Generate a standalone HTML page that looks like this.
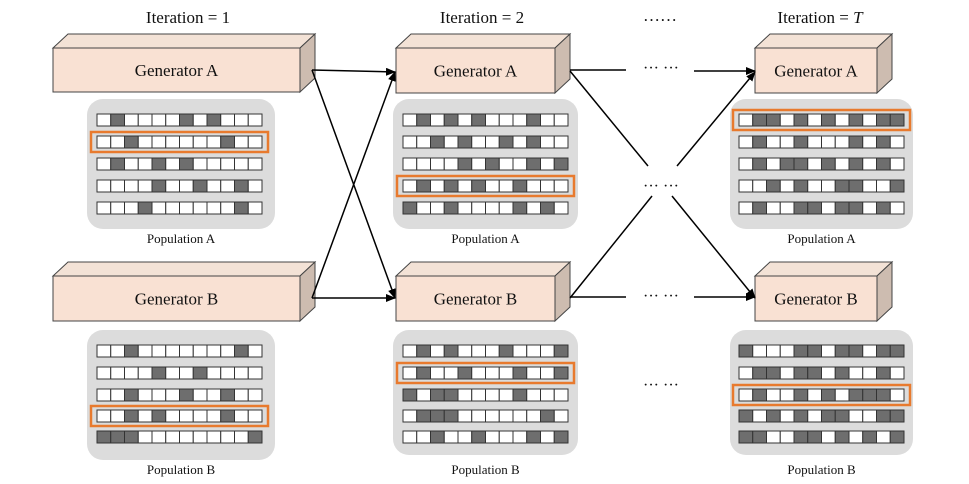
<!DOCTYPE html>
<html><head><meta charset="utf-8"><style>
html,body{margin:0;padding:0;background:#fff;}
svg{display:block;}
text{font-family:"Liberation Serif",serif;fill:#111;}
</style></head><body>
<svg id="s" width="969" height="484" viewBox="0 0 969 484" xmlns="http://www.w3.org/2000/svg">
<defs>
<marker id="ah" markerWidth="10" markerHeight="8" refX="9" refY="4" orient="auto" markerUnits="userSpaceOnUse">
<path d="M0,0 L10,4 L0,8 z" fill="#000"/>
</marker>
</defs>
<text x="188" y="23" font-size="17" text-anchor="middle">Iteration = 1</text>
<text x="482" y="23" font-size="17" text-anchor="middle">Iteration = 2</text>
<text x="660" y="21" font-size="17" text-anchor="middle">…… </text>
<text x="820" y="23" font-size="17" text-anchor="middle">Iteration = <tspan font-style="italic">T</tspan></text>
<g id="content"></g>
<g stroke="#000" stroke-width="1.5" fill="none">
<line x1="312" y1="70" x2="395" y2="72" marker-end="url(#ah)"/>
<line x1="312" y1="70" x2="395" y2="298" marker-end="url(#ah)"/>
<line x1="312" y1="298" x2="395" y2="72" marker-end="url(#ah)"/>
<line x1="312" y1="298" x2="395" y2="298" marker-end="url(#ah)"/>
<line x1="570" y1="70" x2="626" y2="70"/>
<line x1="694" y1="71" x2="755" y2="71" marker-end="url(#ah)"/>
<line x1="570" y1="71" x2="648" y2="166"/>
<line x1="677" y1="166" x2="755" y2="72" marker-end="url(#ah)"/>
<line x1="652" y1="196" x2="570" y2="298"/>
<line x1="672" y1="196" x2="755" y2="298" marker-end="url(#ah)"/>
<line x1="570" y1="297" x2="626" y2="297"/>
<line x1="694" y1="297" x2="755" y2="297" marker-end="url(#ah)"/>
</g>
<text x="661" y="73" font-size="16" text-anchor="middle">··· ···</text>
<text x="661" y="191" font-size="16" text-anchor="middle">··· ···</text>
<text x="661" y="301" font-size="16" text-anchor="middle">··· ···</text>
<text x="661" y="390" font-size="16" text-anchor="middle">··· ···</text>
</svg>
<script>
const NS="http://www.w3.org/2000/svg";
const g=document.getElementById("content");
function el(t,a,txt){const e=document.createElementNS(NS,t);for(const k in a)e.setAttribute(k,a[k]);if(txt)e.textContent=txt;g.appendChild(e);return e;}
function gen(x1,x2,y1,y2,label){
 const d=15,u=14;
 el("polygon",{points:`${x1},${y1} ${x1+d},${y1-u} ${x2+d},${y1-u} ${x2},${y1}`,fill:"#f3e2d6",stroke:"#444","stroke-width":1});
 el("polygon",{points:`${x2},${y1} ${x2+d},${y1-u} ${x2+d},${y2-u} ${x2},${y2}`,fill:"#cdbcb0",stroke:"#444","stroke-width":1});
 el("rect",{x:x1,y:y1,width:x2-x1,height:y2-y1,fill:"#f9e1d3",stroke:"#444","stroke-width":1});
 el("text",{x:(x1+x2)/2,y:(y1+y2)/2+6,"font-size":17,"text-anchor":"middle"},label);
}
function pop(bx,bw,by,bh,gx,rows,pat,hl,label,ly){
 el("rect",{x:bx,y:by,width:bw,height:bh,rx:16,fill:"#dcdcdc"});
 const cw=165/12;
 pat.forEach((r,i)=>{
  const y=rows[i];
  for(let j=0;j<12;j++){
   el("rect",{x:gx+j*cw,y:y,width:cw,height:12,fill:r[j]=="1"?"#6e6e6e":"#fff",stroke:"#333","stroke-width":1});
  }
  if(i==hl) el("rect",{x:gx-6,y:y-4,width:177,height:20,fill:"none",stroke:"#e87a2e","stroke-width":2.5});
 });
 el("text",{x:bx+bw/2,y:ly,"font-size":13,"text-anchor":"middle"},label);
}
gen(53,300,48,92,"Generator A");
gen(396,555,48,93,"Generator A");
gen(755,877,48,93,"Generator A");
gen(53,300,276,321,"Generator B");
gen(396,555,276,321,"Generator B");
gen(755,877,276,321,"Generator B");
const rA=[114,136,158,180,202], rB=[345,367,389,410,431];
pop(87,188,99,130,97,rA,["010000101000","001000000100","010010100000","000010010010","000100000010"],1,"Population A",243);
pop(393,185,99,130,403,rA,["010101000100","001010010100","000010100101","010101001000","100100001010"],3,"Population A",243);
pop(730,183,99,130,739,rA,["011010101011","010010001010","010110101010","001010011001","010011011010"],0,"Population A",243);
pop(87,188,330,130,97,rB,["001000000010","000010010000","001000100100","001010000100","111000000001"],3,"Population B",474);
pop(393,185,330,125,403,rB,["010100010001","010010001001","101100001000","011100000010","001001000101"],1,"Population B",474);
pop(730,183,330,125,739,rB,["100011011011","011011010010","010010101110","101010110011","110011010101"],2,"Population B",474);
</script>
</body></html>
